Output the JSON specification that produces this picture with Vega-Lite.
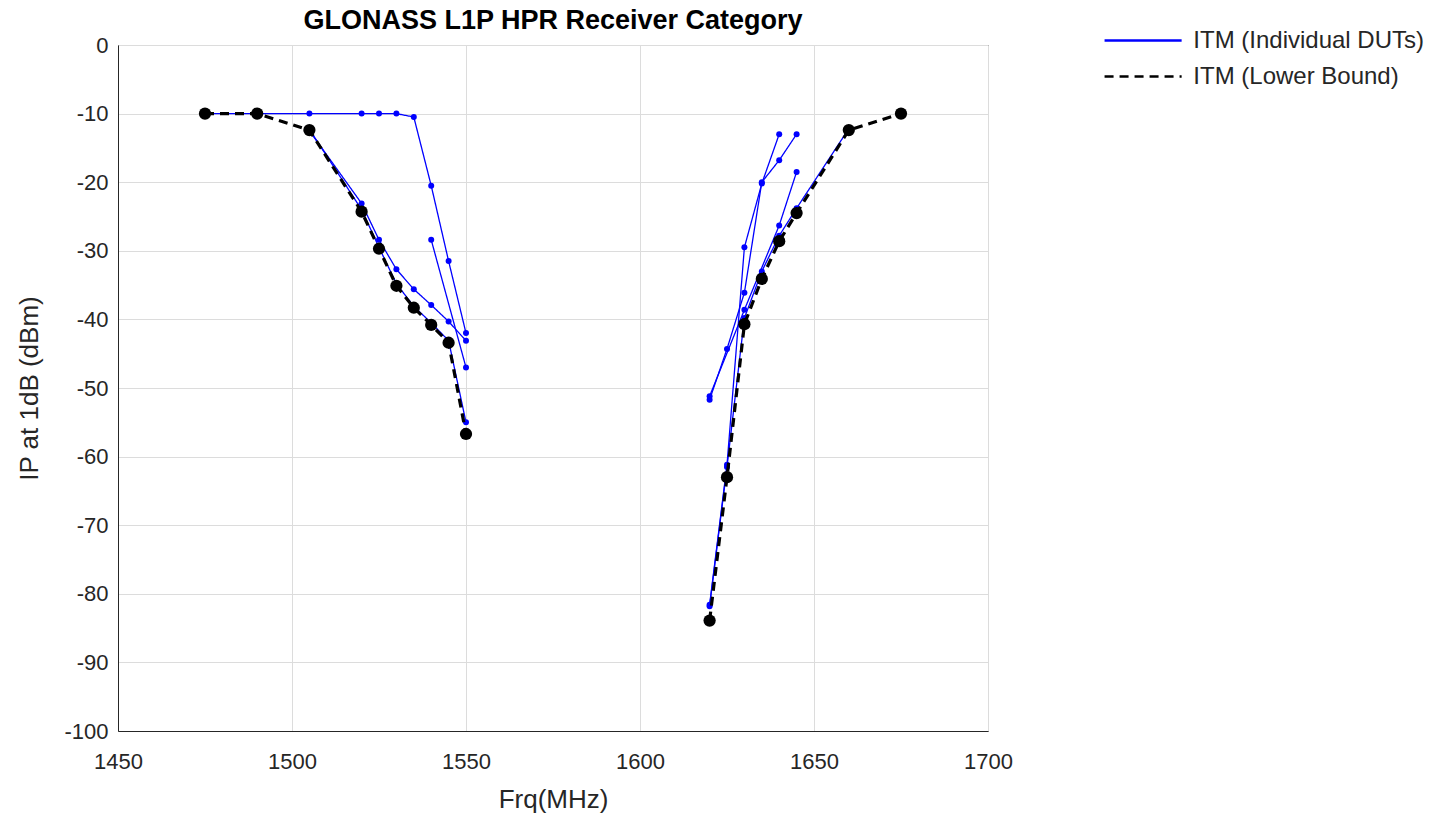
{
  "$schema": "https://vega.github.io/schema/vega-lite/v6.json",
  "width": 870,
  "height": 686,
  "autosize": {"type": "none"},
  "padding": {"left": 118, "top": 45, "right": 460, "bottom": 87},
  "background": "white",
  "title": {
    "text": "GLONASS L1P HPR Receiver Category",
    "font": "Liberation Sans",
    "fontSize": 27,
    "fontWeight": "bold",
    "color": "#000000",
    "anchor": "middle",
    "offset": -9
  },
  "config": {
    "view": {"stroke": "#262626", "strokeWidth": 1},
    "axis": {
      "labelFont": "Liberation Sans",
      "labelFontSize": 22,
      "labelColor": "#262626",
      "titleFont": "Liberation Sans",
      "titleFontSize": 26,
      "titleFontWeight": "normal",
      "titleColor": "#262626",
      "gridColor": "#dcdcdc",
      "gridWidth": 1,
      "domainColor": "#262626",
      "ticks": false,
      "labelFlush": false,
      "labelOverlap": false
    },
    "legend": {
      "title": null,
      "orient": "none",
      "legendX": 1010.6,
      "legendY": -19,
      "symbolType": "M-3,0H3",
      "symbolSize": 660,
      "symbolStrokeWidth": 2.5,
      "labelFont": "Liberation Sans",
      "labelFontSize": 24,
      "labelColor": "#262626",
      "labelLimit": 400,
      "labelOffset": 35.7,
      "rowPadding": 9
    }
  },
  "data": {
    "values": [
      {"f": 1475, "ip": -10, "g": "d1", "s": "ITM (Individual DUTs)"},
      {"f": 1490, "ip": -10, "g": "d1", "s": "ITM (Individual DUTs)"},
      {"f": 1505, "ip": -10, "g": "d1", "s": "ITM (Individual DUTs)"},
      {"f": 1520, "ip": -10, "g": "d1", "s": "ITM (Individual DUTs)"},
      {"f": 1525, "ip": -10, "g": "d1", "s": "ITM (Individual DUTs)"},
      {"f": 1530, "ip": -10, "g": "d1", "s": "ITM (Individual DUTs)"},
      {"f": 1535, "ip": -10.5, "g": "d1", "s": "ITM (Individual DUTs)"},
      {"f": 1540, "ip": -20.5, "g": "d1", "s": "ITM (Individual DUTs)"},
      {"f": 1545, "ip": -31.5, "g": "d1", "s": "ITM (Individual DUTs)"},
      {"f": 1550, "ip": -42, "g": "d1", "s": "ITM (Individual DUTs)"},

      {"f": 1505, "ip": -12.5, "g": "d2", "s": "ITM (Individual DUTs)"},
      {"f": 1520, "ip": -23.1, "g": "d2", "s": "ITM (Individual DUTs)"},
      {"f": 1525, "ip": -28.4, "g": "d2", "s": "ITM (Individual DUTs)"},
      {"f": 1530, "ip": -32.7, "g": "d2", "s": "ITM (Individual DUTs)"},
      {"f": 1535, "ip": -35.6, "g": "d2", "s": "ITM (Individual DUTs)"},
      {"f": 1540, "ip": -37.9, "g": "d2", "s": "ITM (Individual DUTs)"},
      {"f": 1545, "ip": -40.3, "g": "d2", "s": "ITM (Individual DUTs)"},
      {"f": 1550, "ip": -43.1, "g": "d2", "s": "ITM (Individual DUTs)"},

      {"f": 1505, "ip": -12.3, "g": "d3", "s": "ITM (Individual DUTs)"},
      {"f": 1520, "ip": -24, "g": "d3", "s": "ITM (Individual DUTs)"},
      {"f": 1525, "ip": -29.5, "g": "d3", "s": "ITM (Individual DUTs)"},
      {"f": 1530, "ip": -34.8, "g": "d3", "s": "ITM (Individual DUTs)"},
      {"f": 1535, "ip": -38.1, "g": "d3", "s": "ITM (Individual DUTs)"},
      {"f": 1540, "ip": -40.5, "g": "d3", "s": "ITM (Individual DUTs)"},
      {"f": 1545, "ip": -43.1, "g": "d3", "s": "ITM (Individual DUTs)"},
      {"f": 1550, "ip": -55, "g": "d3", "s": "ITM (Individual DUTs)"},

      {"f": 1540, "ip": -28.4, "g": "d4", "s": "ITM (Individual DUTs)"},
      {"f": 1550, "ip": -47, "g": "d4", "s": "ITM (Individual DUTs)"},

      {"f": 1620, "ip": -81.6, "g": "d5", "s": "ITM (Individual DUTs)"},
      {"f": 1625, "ip": -61.2, "g": "d5", "s": "ITM (Individual DUTs)"},
      {"f": 1630, "ip": -29.5, "g": "d5", "s": "ITM (Individual DUTs)"},
      {"f": 1635, "ip": -20.2, "g": "d5", "s": "ITM (Individual DUTs)"},
      {"f": 1640, "ip": -13, "g": "d5", "s": "ITM (Individual DUTs)"},

      {"f": 1620, "ip": -51.7, "g": "d6", "s": "ITM (Individual DUTs)"},
      {"f": 1625, "ip": -44.3, "g": "d6", "s": "ITM (Individual DUTs)"},
      {"f": 1630, "ip": -36.1, "g": "d6", "s": "ITM (Individual DUTs)"},
      {"f": 1635, "ip": -20, "g": "d6", "s": "ITM (Individual DUTs)"},
      {"f": 1640, "ip": -16.8, "g": "d6", "s": "ITM (Individual DUTs)"},
      {"f": 1645, "ip": -13, "g": "d6", "s": "ITM (Individual DUTs)"},

      {"f": 1620, "ip": -51.2, "g": "d7", "s": "ITM (Individual DUTs)"},
      {"f": 1630, "ip": -38.6, "g": "d7", "s": "ITM (Individual DUTs)"},
      {"f": 1640, "ip": -26.3, "g": "d7", "s": "ITM (Individual DUTs)"},
      {"f": 1645, "ip": -18.5, "g": "d7", "s": "ITM (Individual DUTs)"},

      {"f": 1620, "ip": -81.8, "g": "d8", "s": "ITM (Individual DUTs)"},
      {"f": 1625, "ip": -61.5, "g": "d8", "s": "ITM (Individual DUTs)"},
      {"f": 1630, "ip": -39.8, "g": "d8", "s": "ITM (Individual DUTs)"},
      {"f": 1635, "ip": -33, "g": "d8", "s": "ITM (Individual DUTs)"},
      {"f": 1640, "ip": -27.8, "g": "d8", "s": "ITM (Individual DUTs)"},
      {"f": 1645, "ip": -23.8, "g": "d8", "s": "ITM (Individual DUTs)"},
      {"f": 1660, "ip": -12.2, "g": "d8", "s": "ITM (Individual DUTs)"},

      {"f": 1475, "ip": -10, "g": "LBL", "s": "ITM (Lower Bound)"},
      {"f": 1490, "ip": -10, "g": "LBL", "s": "ITM (Lower Bound)"},
      {"f": 1505, "ip": -12.4, "g": "LBL", "s": "ITM (Lower Bound)"},
      {"f": 1520, "ip": -24.3, "g": "LBL", "s": "ITM (Lower Bound)"},
      {"f": 1525, "ip": -29.7, "g": "LBL", "s": "ITM (Lower Bound)"},
      {"f": 1530, "ip": -35.1, "g": "LBL", "s": "ITM (Lower Bound)"},
      {"f": 1535, "ip": -38.3, "g": "LBL", "s": "ITM (Lower Bound)"},
      {"f": 1540, "ip": -40.8, "g": "LBL", "s": "ITM (Lower Bound)"},
      {"f": 1545, "ip": -43.4, "g": "LBL", "s": "ITM (Lower Bound)"},
      {"f": 1550, "ip": -56.7, "g": "LBL", "s": "ITM (Lower Bound)"},

      {"f": 1620, "ip": -83.9, "g": "LBR", "s": "ITM (Lower Bound)"},
      {"f": 1625, "ip": -63, "g": "LBR", "s": "ITM (Lower Bound)"},
      {"f": 1630, "ip": -40.7, "g": "LBR", "s": "ITM (Lower Bound)"},
      {"f": 1635, "ip": -34.1, "g": "LBR", "s": "ITM (Lower Bound)"},
      {"f": 1640, "ip": -28.6, "g": "LBR", "s": "ITM (Lower Bound)"},
      {"f": 1645, "ip": -24.5, "g": "LBR", "s": "ITM (Lower Bound)"},
      {"f": 1660, "ip": -12.4, "g": "LBR", "s": "ITM (Lower Bound)"},
      {"f": 1675, "ip": -10, "g": "LBR", "s": "ITM (Lower Bound)"}
    ]
  },
  "encoding": {
    "x": {
      "field": "f",
      "type": "quantitative",
      "scale": {"domain": [1450, 1700], "nice": false, "zero": false},
      "axis": {
        "title": "Frq(MHz)",
        "values": [1450, 1500, 1550, 1600, 1650, 1700],
        "labelExpr": "'' + datum.value",
        "labelPadding": 20,
        "titlePadding": 14
      }
    },
    "y": {
      "field": "ip",
      "type": "quantitative",
      "scale": {"domain": [-100, 0], "nice": false, "zero": false},
      "axis": {
        "title": "IP at 1dB (dBm)",
        "values": [-100, -90, -80, -70, -60, -50, -40, -30, -20, -10, 0],
        "labelExpr": "'' + datum.value",
        "labelPadding": 10,
        "titlePadding": 21
      }
    }
  },
  "layer": [
    {
      "transform": [{"filter": "datum.s === 'ITM (Individual DUTs)'"}],
      "mark": {"type": "line", "strokeWidth": 1.3},
      "encoding": {
        "detail": {"field": "g"},
        "color": {
          "field": "s",
          "type": "nominal",
          "scale": {
            "domain": ["ITM (Individual DUTs)", "ITM (Lower Bound)"],
            "range": ["#0000ff", "#000000"]
          }
        },
        "strokeDash": {
          "field": "s",
          "type": "nominal",
          "scale": {
            "domain": ["ITM (Individual DUTs)", "ITM (Lower Bound)"],
            "range": [[1, 0], [9, 6]]
          }
        }
      }
    },
    {
      "transform": [{"filter": "datum.s === 'ITM (Individual DUTs)'"}],
      "mark": {"type": "point", "filled": true, "opacity": 1, "size": 36, "shape": "circle", "color": "#0000ff"}
    },
    {
      "transform": [{"filter": "datum.s === 'ITM (Lower Bound)'"}],
      "mark": {"type": "line", "strokeWidth": 3.2},
      "encoding": {
        "detail": {"field": "g"},
        "color": {
          "field": "s",
          "type": "nominal",
          "scale": {
            "domain": ["ITM (Individual DUTs)", "ITM (Lower Bound)"],
            "range": ["#0000ff", "#000000"]
          }
        },
        "strokeDash": {
          "field": "s",
          "type": "nominal",
          "scale": {
            "domain": ["ITM (Individual DUTs)", "ITM (Lower Bound)"],
            "range": [[1, 0], [9, 6]]
          }
        }
      }
    },
    {
      "transform": [{"filter": "datum.s === 'ITM (Lower Bound)'"}],
      "mark": {"type": "point", "filled": true, "opacity": 1, "size": 150, "shape": "circle", "color": "#000000"}
    }
  ]
}
